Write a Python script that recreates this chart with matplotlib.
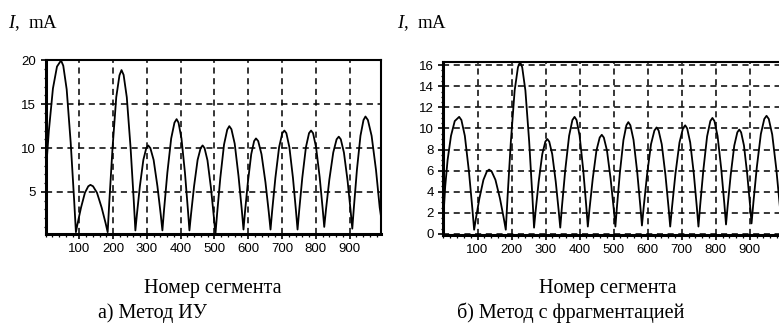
import matplotlib
matplotlib.use("Agg")
import matplotlib.pyplot as plt
from matplotlib.ticker import MultipleLocator, FixedLocator

plt.rcParams['font.family'] = ['Liberation Sans', 'DejaVu Sans']
plt.rcParams['mathtext.fontset'] = 'custom'
plt.rcParams['mathtext.it'] = 'Liberation Serif:italic'
plt.rcParams['mathtext.rm'] = 'Liberation Serif'

# а) Метод ИУ  -- current along the segments (read from the picture)
seg_a = [0, 10, 22, 34, 46, 52.6, 62.7, 74.6, 84.7,
         90, 95.2, 105.1, 116.7, 126.6,
         133, 140.7, 152.4, 166.2, 177.9,
         184, 188.9, 198.4, 209.4, 218.9,
         225, 231.2, 240.6, 251.7, 261.1,
         266, 270.6, 279.3, 289.6, 298.3,
         304, 310.3, 320.0, 331.3, 341.0,
         346, 351.0, 360.7, 372.0, 381.7,
         388, 393.7, 402.4, 412.7, 421.4,
         426, 430.7, 439.7, 450.2, 459.2,
         465, 470.7, 479.4, 489.7, 498.4,
         503, 507.9, 517.4, 528.4, 537.9,
         544, 550.3, 560.0, 571.3, 581.0,
         586, 590.4, 599.0, 608.9, 617.5,
         623, 629.5, 639.3, 651.0, 660.8,
         666, 670.9, 680.4, 691.4, 700.9,
         707, 712.9, 721.8, 732.4, 741.3,
         746, 750.8, 760.0, 770.8, 780.0,
         786, 791.9, 800.8, 811.4, 820.3,
         825, 830.2, 840.1, 851.7, 861.6,
         868, 874.0, 883.2, 894.0, 903.2,
         908, 912.7, 921.7, 932.2, 941.2,
         947, 954.2, 965.2, 978.2, 989.2, 993]
cur_a = [6.7, 12.0, 16.8, 19.3, 20.0, 19.4, 16.7, 10.6, 4.1,
         0.4, 1.43, 3.2, 4.9, 5.64,
         5.8, 5.64, 4.9, 3.2, 1.43,
         0.4, 3.9, 10.0, 15.8, 18.3,
         18.9, 18.35, 15.8, 10.1, 4.1,
         0.6, 2.44, 5.64, 8.65, 10.0,
         10.3, 10.0, 8.65, 5.64, 2.44,
         0.6, 3.0, 7.2, 11.1, 12.9,
         13.3, 12.9, 11.1, 7.2, 3.0,
         0.6, 2.44, 5.64, 8.65, 10.0,
         10.3, 10.0, 8.6, 5.45, 2.1,
         0.2, 2.5, 6.6, 10.4, 12.1,
         12.5, 12.15, 10.5, 6.8, 2.94,
         0.7, 2.7, 6.1, 9.3, 10.8,
         11.1, 10.8, 9.3, 6.1, 2.7,
         0.7, 2.85, 6.6, 10.1, 11.7,
         12.0, 11.7, 10.1, 6.6, 2.85,
         0.7, 2.85, 6.6, 10.1, 11.7,
         12.0, 11.7, 10.1, 6.7, 3.1,
         1.0, 3.0, 6.4, 9.5, 11.0,
         11.3, 11.0, 9.5, 6.3, 2.8,
         0.8, 3.2, 7.5, 11.4, 13.2,
         13.6, 13.2, 11.4, 7.5, 3.2, 2.2]

# б) Метод с фрагментацией
seg_b = [0, 5, 12, 22, 33, 46, 52.6, 62.7, 74.6, 84.7,
         90, 95.3, 105.4, 117.3, 127.4,
         134, 141.4, 152.6, 165.9, 177.1,
         183, 188.0, 197.7, 209.0, 218.7,
         225, 231.2, 240.6, 251.7, 261.1,
         266, 270.7, 279.7, 290.2, 299.2,
         305, 310.7, 319.4, 329.7, 338.4,
         343, 348.0, 357.7, 369.0, 378.7,
         385, 390.9, 399.8, 410.4, 419.3,
         424, 428.9, 438.4, 449.4, 458.9,
         465, 471.0, 480.2, 491.0, 500.2,
         505, 509.6, 518.3, 528.6, 537.3,
         543, 549.0, 558.2, 569.0, 578.2,
         583, 588.2, 598.1, 609.7, 619.6,
         626, 632.0, 641.2, 652.0, 661.2,
         666, 671.3, 681.4, 693.3, 703.4,
         710, 715.9, 724.8, 735.4, 744.3,
         749, 753.9, 763.4, 774.4, 783.9,
         790, 796.0, 805.2, 816.0, 825.2,
         830, 834.7, 843.7, 854.2, 863.2,
         869, 874.4, 882.7, 892.4, 900.7,
         905, 910.3, 920.4, 932.3, 942.4,
         949, 955.6, 965.7, 977.6, 987.7, 993]
cur_b = [1.8, 4.5, 7.0, 9.3, 10.7, 11.1, 10.8, 9.3, 5.96, 2.43,
         0.4, 1.48, 3.36, 5.13, 5.93,
         6.1, 5.93, 5.13, 3.36, 1.48,
         0.4, 3.4, 8.67, 13.6, 15.8,
         16.3, 15.8, 13.6, 8.76, 3.58,
         0.6, 2.2, 4.97, 7.57, 8.75,
         9.0, 8.75, 7.57, 4.97, 2.2,
         0.6, 2.6, 6.06, 9.3, 10.8,
         11.1, 10.8, 9.33, 6.1, 2.68,
         0.7, 2.35, 5.22, 7.92, 9.14,
         9.4, 9.14, 7.92, 5.22, 2.35,
         0.7, 2.58, 5.85, 8.9, 10.3,
         10.6, 10.3, 8.93, 5.9, 2.66,
         0.8, 2.57, 5.64, 8.52, 9.8,
         10.1, 9.8, 8.5, 5.6, 2.5,
         0.7, 2.52, 5.7, 8.67, 10.0,
         10.3, 10.0, 8.67, 5.7, 2.52,
         0.7, 2.66, 6.06, 9.25, 10.7,
         11.0, 10.7, 9.28, 6.15, 2.82,
         0.9, 2.61, 5.58, 8.37, 9.63,
         9.9, 9.63, 8.39, 5.63, 2.69,
         1.0, 2.94, 6.3, 9.47, 10.9,
         11.2, 10.9, 9.43, 6.2, 2.78, 1.0]

xticks = [100, 200, 300, 400, 500, 600, 700, 800, 900]
yticks_a = [5, 10, 15, 20]
yticks_b = [0, 2, 4, 6, 8, 10, 12, 14, 16]

W, H = 779, 323
fig = plt.figure(figsize=(W / 100, H / 100), dpi=100)


def panel(rect, x, y, yticks, ylim, yminor):
    ax = fig.add_axes(rect)
    ax.plot(x, y, color='black', lw=1.3, zorder=3)
    ax.set_xlim(0, 993)
    ax.set_ylim(*ylim)
    ax.xaxis.set_major_locator(FixedLocator(xticks))
    ax.yaxis.set_major_locator(FixedLocator(yticks))
    ax.xaxis.set_minor_locator(MultipleLocator(20))
    ax.yaxis.set_minor_locator(MultipleLocator(yminor))
    ax.grid(True, which='major', color='black', lw=1.1, linestyle=(0, (4, 3)))
    ax.tick_params(which='major', direction='out', length=3.5, width=1.2,
                   labelsize=9.5, pad=3.5)
    ax.tick_params(which='minor', direction='out', length=1.8, width=0.9)
    for s in ('left', 'bottom'):
        ax.spines[s].set_linewidth(2.2)
    for s in ('top', 'right'):
        ax.spines[s].set_linewidth(1.5)
    return ax


ax1 = panel([45.5 / W, 1 - 233.5 / H, 335.5 / W, 173.5 / H],
            seg_a, cur_a, yticks_a, (0.25, 20.05), 1)
ax2 = panel([443.5 / W, 1 - 234.5 / H, 338 / W, 172.5 / H],
            seg_b, cur_b, yticks_b, (-0.05, 16.3), 0.5)

serif = ['Liberation Serif', 'DejaVu Serif']
fig.text(8 / W, 1 - 23 / H, r'$I$,  mA', family=serif, fontsize=13.5,
         va='center')
fig.text(397 / W, 1 - 23 / H, r'$I$,  mA', family=serif, fontsize=13.5,
         va='center')

fig.text(213 / W, 1 - 289 / H, 'Номер сегмента', family=serif, fontsize=14.5,
         ha='center', va='center')
fig.text(152 / W, 1 - 313 / H, 'а) Метод ИУ', family=serif, fontsize=14.5,
         ha='center', va='center')
fig.text(608 / W, 1 - 289 / H, 'Номер сегмента', family=serif, fontsize=14.5,
         ha='center', va='center')
fig.text(571 / W, 1 - 313 / H, 'б) Метод с фрагментацией', family=serif,
         fontsize=14.5, ha='center', va='center')

fig.savefig('out.png', dpi=100)
